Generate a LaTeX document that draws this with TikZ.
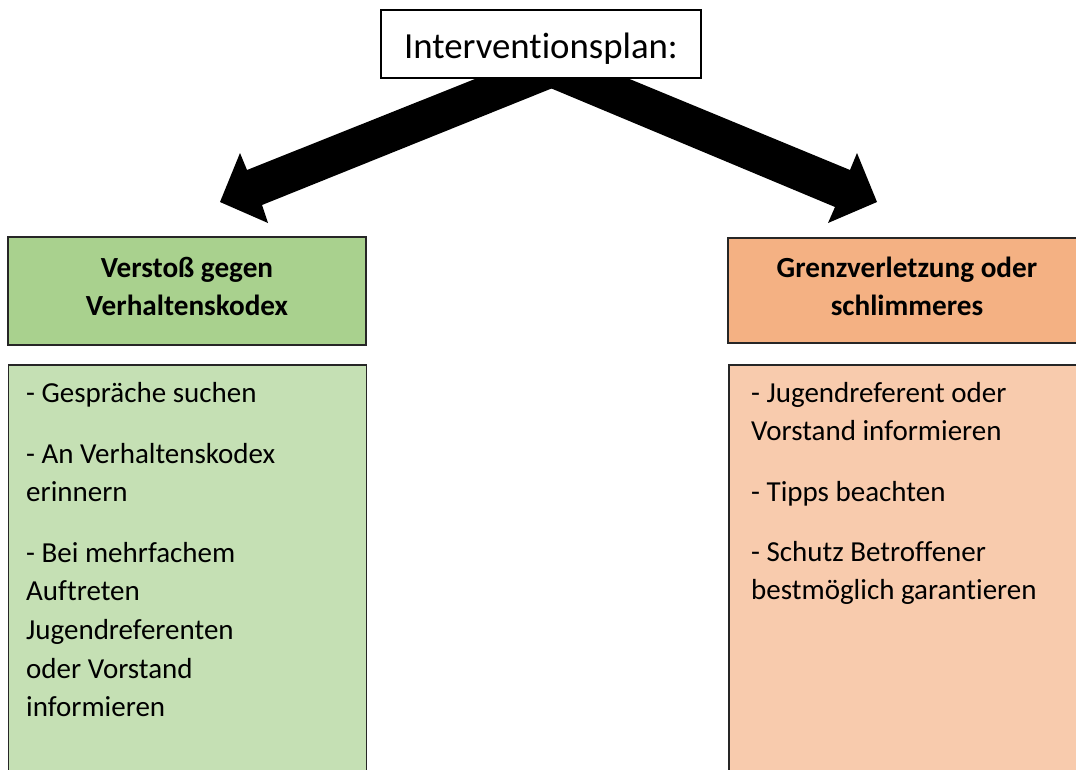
\documentclass[tikz,border=0pt]{standalone}
\usepackage{fontspec}
\setmainfont[Ligatures={NoCommon}]{Carlito}
\definecolor{hgreen}{HTML}{A9D18E}
\definecolor{bgreen}{HTML}{C5E0B4}
\definecolor{horange}{HTML}{F4B183}
\definecolor{borange}{HTML}{F8CBAD}
\begin{document}
\begin{tikzpicture}[x=1pt,y=-1pt,
  panel/.style={draw=black!85, line width=1.3pt, inner sep=0pt, minimum width=358pt},
  hdrtxt/.style={anchor=base, inner sep=0pt, font=\bfseries\fontsize{29.2}{34}\selectfont},
  bodytxt/.style={anchor=base west, inner sep=0pt, font=\fontsize{29}{35}\selectfont},
  blockarrow/.style={fill=black}]
\clip (0,0) rectangle (1076,769);
\fill[white] (0,0) rectangle (1076,769);

% block arrows
\coordinate (lA) at (490,73);
\coordinate (lB) at (247,170);
\coordinate (lC) at (240,153);
\coordinate (lD) at (220,202);
\coordinate (lE) at (268,223);
\coordinate (lF) at (262,205);
\coordinate (notch) at (551.5,88.5);
\coordinate (lH) at (600,73);
\fill[blockarrow] (lA) -- (lB) -- (lC) -- (lD) -- (lE) -- (lF) -- (notch) -- (lH) -- cycle;
\coordinate (rA) at (615,73);
\coordinate (rB) at (850,170);
\coordinate (rC) at (857,153);
\coordinate (rD) at (877,202);
\coordinate (rE) at (828,223);
\coordinate (rF) at (835,207);
\coordinate (rH) at (500,73);
\fill[blockarrow] (rA) -- (rB) -- (rC) -- (rD) -- (rE) -- (rF) -- (notch) -- (rH) -- cycle;

% title
\node[draw=black, line width=1.1pt, fill=white, minimum width=320pt, minimum height=68pt,
      text height=30pt, text depth=2pt, inner sep=0pt,
      font=\fontsize{36.8}{40}\selectfont] (title) at (541,44) {Interventionsplan:};

% left column
\node[panel, fill=hgreen, minimum height=108pt] (gh) at (187,291) {};
\node[panel, fill=bgreen, minimum height=435pt] (gb) at (187.5,582.5) {};
\node[hdrtxt] (gh1) at (187,277) {Verstoß gegen};
\node[hdrtxt] (gh2) at (187,315) {Verhaltenskodex};
\node[bodytxt] (l1) at (26,402) {- Gespräche suchen};
\node[bodytxt] (l2) at (26,463) {- An Verhaltenskodex};
\node[bodytxt] (l3) at (26,501.7) {erinnern};
\node[bodytxt] (l4) at (26,562) {- Bei mehrfachem};
\node[bodytxt] (l5) at (26,600.7) {Auftreten};
\node[bodytxt] (l6) at (26,639.4) {Jugendreferenten};
\node[bodytxt] (l7) at (26,678.1) {oder Vorstand};
\node[bodytxt] (l8) at (26,716.8) {informieren};

% right column
\node[panel, fill=horange, minimum height=105pt] (oh) at (907,290.5) {};
\node[panel, fill=borange, minimum height=435pt] (ob) at (908,582.5) {};
\node[hdrtxt] (oh1) at (907,277) {Grenzverletzung oder};
\node[hdrtxt] (oh2) at (907,315) {schlimmeres};
\node[bodytxt] (r1) at (751,402) {- Jugendreferent oder};
\node[bodytxt] (r2) at (751,440.7) {Vorstand informieren};
\node[bodytxt] (r3) at (751,501) {- Tipps beachten};
\node[bodytxt] (r4) at (751,561) {- Schutz Betroffener};
\node[bodytxt] (r5) at (751,599.7) {bestmöglich garantieren};
\end{tikzpicture}
\end{document}
